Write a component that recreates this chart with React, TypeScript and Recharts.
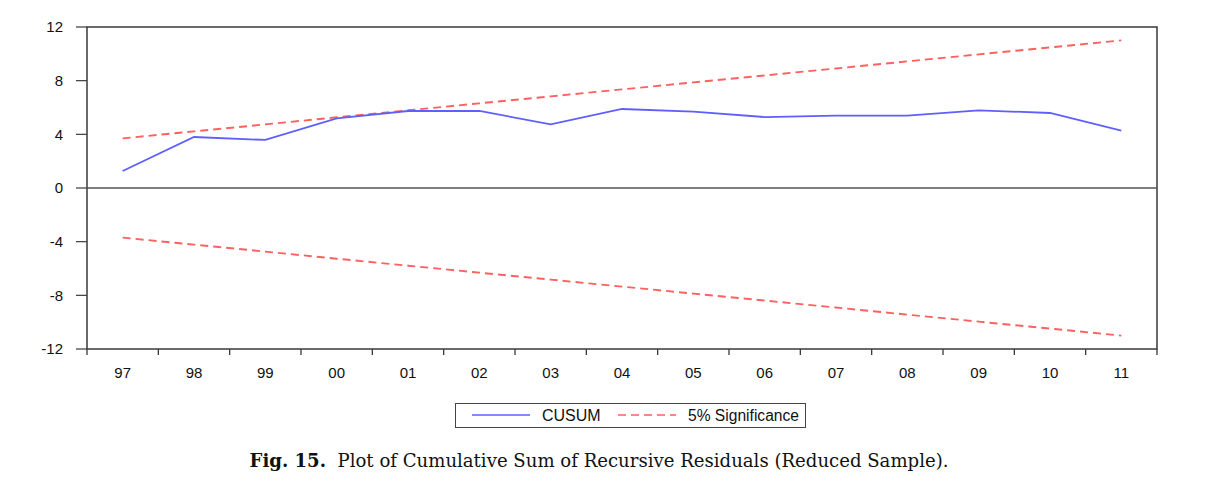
import React from "react";
import { LineChart, Line, XAxis, YAxis, ReferenceArea, ReferenceLine } from "recharts";

const years = ["97", "98", "99", "00", "01", "02", "03", "04", "05", "06", "07", "08", "09", "10", "11"];
const cusum = [1.27, 3.8, 3.58, 5.19, 5.74, 5.74, 4.75, 5.89, 5.69, 5.29, 5.39, 5.39, 5.79, 5.59, 4.27];
const upper = [3.7, 4.22, 4.74, 5.27, 5.79, 6.31, 6.83, 7.35, 7.87, 8.39, 8.91, 9.44, 9.96, 10.48, 11.0];
const lower = [-3.7, -4.22, -4.74, -5.27, -5.79, -6.31, -6.83, -7.35, -7.87, -8.39, -8.91, -9.44, -9.96, -10.48, -11.0];
const yTicks = [-12, -8, -4, 0, 4, 8, 12];

const data = years.map((y, i) => ({ year: y, cusum: cusum[i], upper: upper[i], lower: lower[i] }));

const BLUE = "#5f5fff";
const RED = "#ff6060";
const AXIS = "#3a3a3a";
const FONT = "'Liberation Sans', Arial, sans-serif";

const CHART_W = 1198;
const MARGIN = { top: 19, right: 49, left: 19, bottom: 23 };
const Y_W = 60;
const FALLBACK_HALF_BAND = (CHART_W - MARGIN.left - MARGIN.right - Y_W) / years.length / 2;

function YearTick(props: any) {
  const { x, y, payload, index } = props;
  const half = payload && typeof payload.offset === "number" && payload.offset > 0 ? payload.offset : FALLBACK_HALF_BAND;
  const isLast = index === years.length - 1;
  return (
    <g>
      <line x1={x - half} x2={x - half} y1={y} y2={y + 6} stroke={AXIS} strokeWidth={1.3} />
      {isLast && <line x1={x + half} x2={x + half} y1={y} y2={y + 6} stroke={AXIS} strokeWidth={1.3} />}
      <text x={x} y={y + 29} textAnchor="middle" fontFamily={FONT} fontSize={15} fill="#111">
        {payload.value}
      </text>
    </g>
  );
}

export default function App() {
  return (
    <div style={{ position: "relative", width: 1198, height: 486 }}>
      <LineChart width={CHART_W} height={400} data={data} margin={MARGIN}>
        <XAxis
          dataKey="year"
          type="category"
          scale="band"
          tickLine={false}
          axisLine={false}
          tickSize={0}
          tickMargin={0}
          height={36}
          interval={0}
          tick={<YearTick />}
        />
        <YAxis
          domain={[-12, 12]}
          ticks={yTicks}
          interval={0}
          width={Y_W}
          axisLine={false}
          tickLine={{ stroke: AXIS, strokeWidth: 1.2 }}
          tickSize={11}
          tickMargin={13}
          tick={{ fill: "#111", fontSize: 15, fontFamily: FONT }}
        />
        <ReferenceArea y1={-12} y2={12} fill="none" stroke={AXIS} strokeWidth={1.5} ifOverflow="visible" />
        <ReferenceLine y={0} stroke="#555" strokeWidth={1.3} />
        <Line dataKey="upper" stroke={RED} strokeWidth={1.9} strokeDasharray="8 5" dot={false} isAnimationActive={false} />
        <Line dataKey="lower" stroke={RED} strokeWidth={1.9} strokeDasharray="8 5" dot={false} isAnimationActive={false} />
        <Line dataKey="cusum" stroke={BLUE} strokeWidth={1.8} dot={false} isAnimationActive={false} />
      </LineChart>
      <div
        style={{
          position: "absolute",
          left: 447,
          top: 395,
          width: 351,
          height: 25,
          border: "1.5px solid #444",
          boxSizing: "border-box",
        }}
      >
        <svg width={351} height={25} style={{ position: "absolute", left: 0, top: 0 }}>
          <line x1={16} x2={74} y1={11} y2={11} stroke={BLUE} strokeWidth={1.5} />
          <text x={86} y={17} fontFamily={FONT} fontSize={16} fill="#111">CUSUM</text>
          <line x1={162} x2={220} y1={11} y2={11} stroke={RED} strokeWidth={1.5} strokeDasharray="8 5" />
          <text x={232} y={17} fontFamily={FONT} fontSize={15.6} fill="#111">5% Significance</text>
        </svg>
      </div>
      <div
        style={{
          position: "absolute",
          left: 0,
          width: 1182,
          top: 442,
          textAlign: "center",
          fontFamily: "'DejaVu Serif', serif",
          fontSize: 18.1,
          color: "#111",
        }}
      >
        <b>Fig. 15.</b>&nbsp; Plot of Cumulative Sum of Recursive Residuals (Reduced Sample).
      </div>
    </div>
  );
}
